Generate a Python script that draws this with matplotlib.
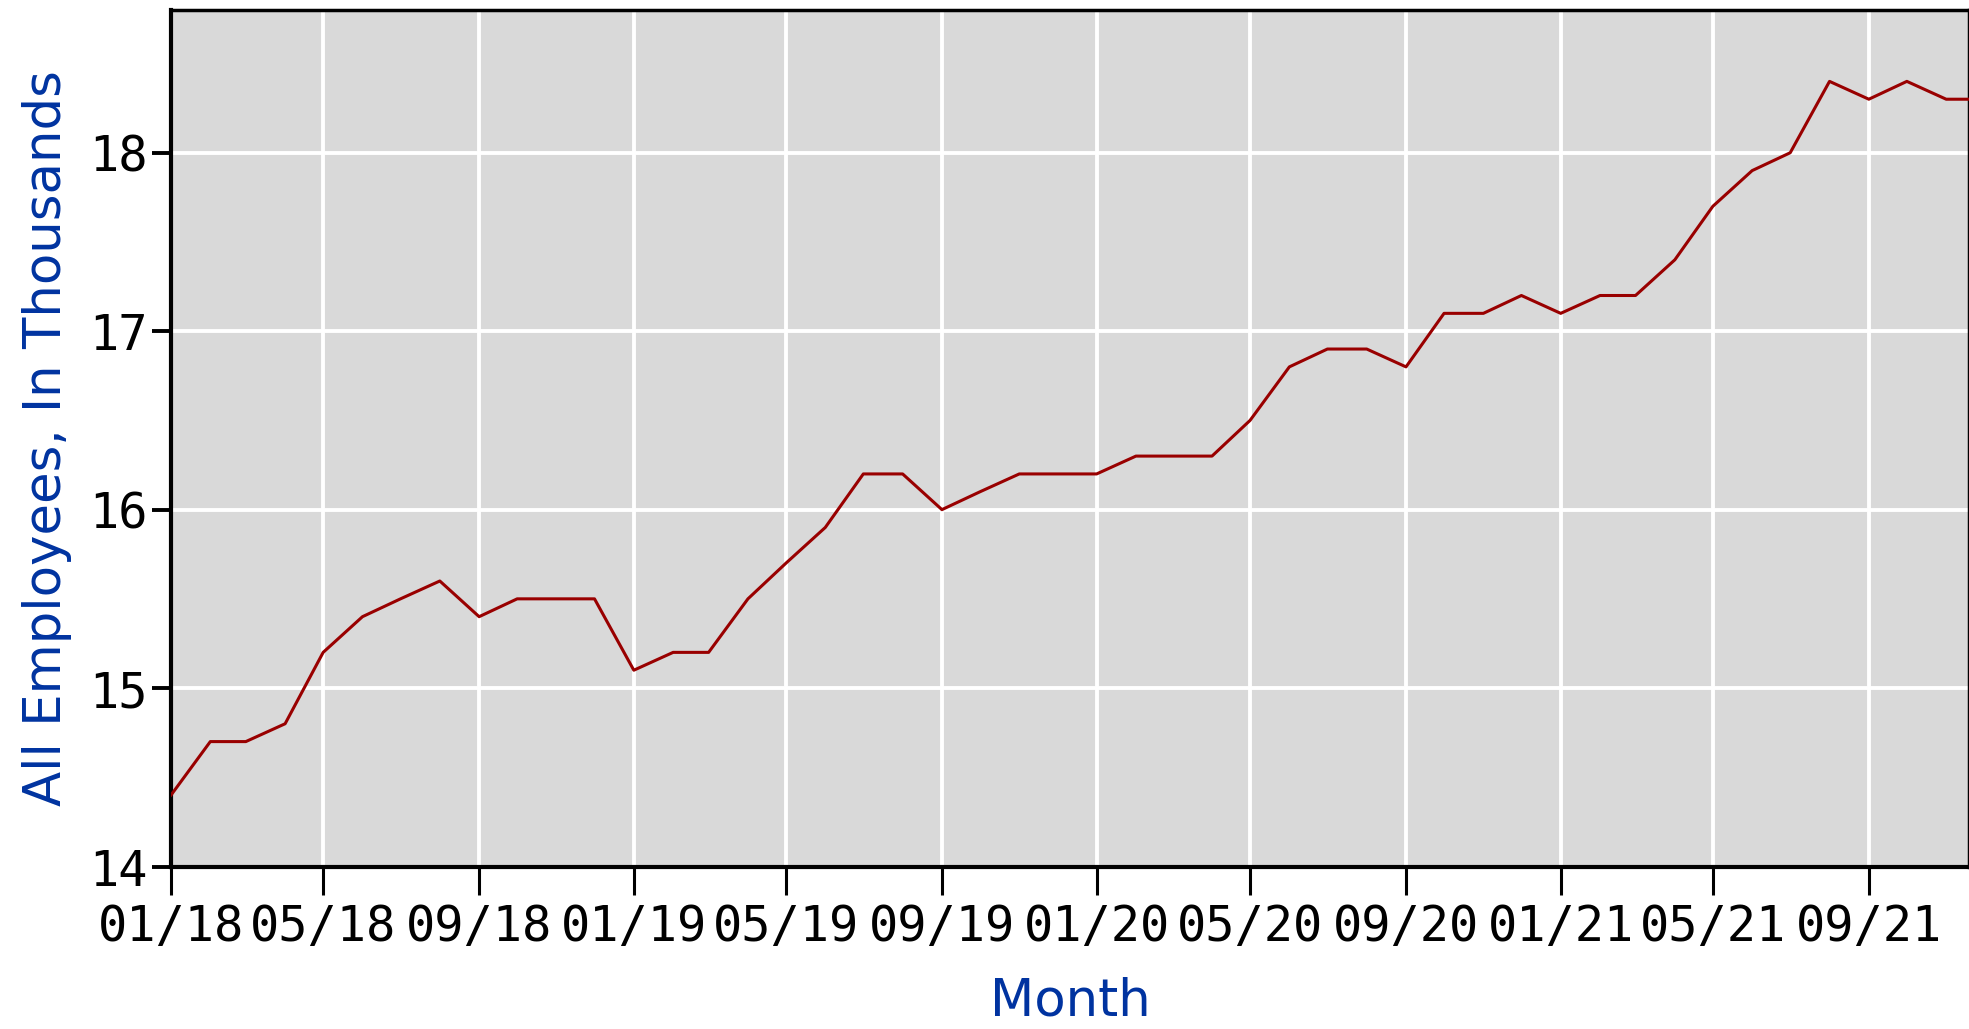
import numpy as np
import pandas as pd
import matplotlib
matplotlib.use("Agg")
from matplotlib import pyplot as plt
import matplotlib.dates as mdates

# monthly values, thousands of employees
months = pd.date_range("2018-01-01", "2021-12-01", freq="MS")
values = [14.4, 14.7, 14.7, 14.8, 15.2, 15.4, 15.5, 15.6, 15.4, 15.5, 15.5, 15.5,
          15.1, 15.2, 15.2, 15.5, 15.7, 15.9, 16.2, 16.2, 16.0, 16.1, 16.2, 16.2,
          16.2, 16.3, 16.3, 16.3, 16.5, 16.8, 16.9, 16.9, 16.8, 17.1, 17.1, 17.2,
          17.1, 17.2, 17.2, 17.4, 17.7, 17.9, 18.0, 18.4, 18.3, 18.4, 18.3, 18.3]

xticks = pd.date_range("2018-01-01", "2021-09-01", freq="4MS")
yticks = [14, 15, 16, 17, 18]

blue = "#0033a0"

fig = plt.figure(figsize=(19.69, 10.29), dpi=100)
ax = fig.add_axes([171/1969, 1-866.5/1029, 1-171/1969, (866.5-10)/1029])
ax.set_facecolor("#d9d9d9")

ax.plot(months, values, color="#990000", linewidth=2.2, zorder=3)

ax.set_xlim(pd.Timestamp("2018-01-01"), pd.Timestamp("2021-11-19"))
ax.set_ylim(14, 18.8)
ax.set_xticks(xticks)
ax.xaxis.set_major_formatter(mdates.DateFormatter("%m/%y"))
ax.set_yticks(yticks)

ax.grid(True, color="white", linewidth=2.8, zorder=1)
ax.set_axisbelow(True)

for sp in ax.spines.values():
    sp.set_color("black")
    sp.set_linewidth(2.5)
ax.spines["left"].set_linewidth(3)
ax.spines["bottom"].set_linewidth(3)

ax.tick_params(axis="x", direction="out", length=20, width=2.2, pad=6,
               labelsize=35, labelcolor="black")
ax.tick_params(axis="y", direction="out", length=14, width=2.8, pad=3,
               labelsize=35, labelcolor="black")
for lab in ax.get_xticklabels() + ax.get_yticklabels():
    lab.set_family("DejaVu Sans Mono")

ax.set_xlabel("Month", fontsize=37, color=blue, labelpad=19)
ax.set_ylabel("All Employees, In Thousands", fontsize=37, color=blue, labelpad=12)

fig.savefig("out.png", dpi=100)
